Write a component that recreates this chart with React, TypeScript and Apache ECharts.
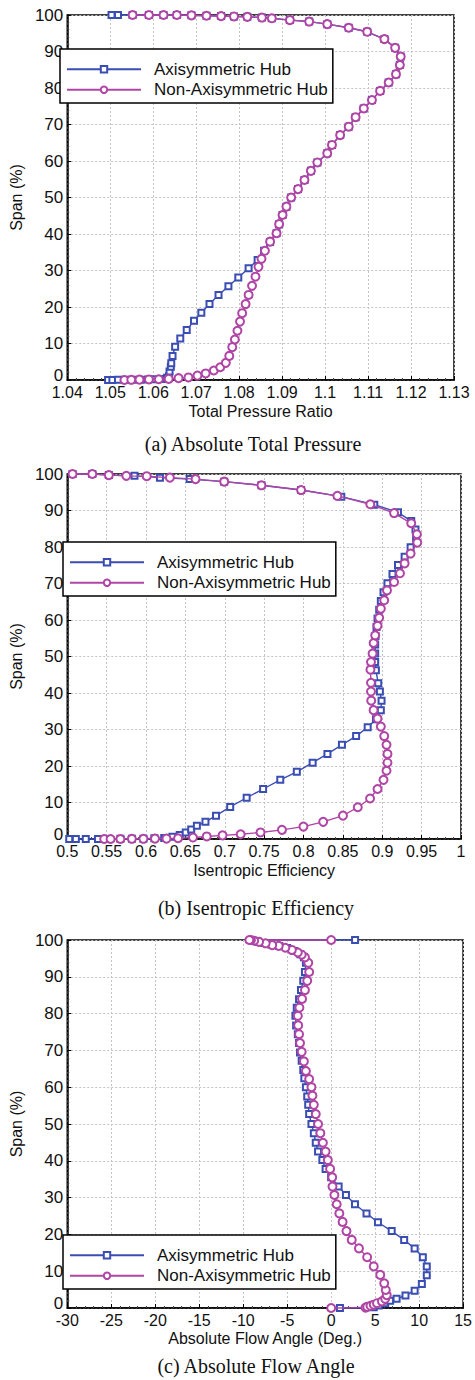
import React, { useEffect, useRef } from "react";
import * as echarts from "echarts";

const SERIES_NAMES = ["Axisymmetric Hub", "Non-Axisymmetric Hub"];
const CAPTIONS = ["(a) Absolute Total Pressure", "(b) Isentropic Efficiency", "(c) Absolute Flow Angle"];
const X_TITLES = ["Total Pressure Ratio", "Isentropic Efficiency", "Absolute Flow Angle (Deg.)"];
const Y_TITLE = "Span (%)";

// [value, span %]
const pressureAxi: number[][] = [
  [1.0495, 0], [1.0505, 0], [1.0518, 0.05], [1.0535, 0.05], [1.0552, 0.1], [1.057, 0.1], [1.0588, 0.15],
  [1.0605, 0.2], [1.0621, 0.3], [1.0632, 0.6], [1.0637, 1.0], [1.0638, 2.3], [1.0641, 3.6], [1.0642, 4.6],
  [1.0645, 6.6], [1.0651, 9.1], [1.0663, 11.4], [1.0678, 13.7], [1.0695, 16.2], [1.0712, 18.4], [1.0731, 20.8],
  [1.0752, 23.3], [1.0775, 25.7], [1.0798, 28.1], [1.0822, 30.6], [1.0843, 32.9], [1.0858, 35.4], [1.0872, 37.8],
  [1.0887, 40.2], [1.0893, 42.7], [1.0901, 45.2], [1.091, 47.5], [1.0921, 50.0], [1.0937, 52.3], [1.0952, 54.8],
  [1.0967, 57.3], [1.0982, 59.6], [1.1005, 62.1], [1.1016, 64.4], [1.1035, 67.1], [1.1055, 69.4], [1.1071, 72.0],
  [1.109, 74.4], [1.1109, 76.7], [1.1128, 79.2], [1.1148, 81.5], [1.1165, 83.8], [1.1174, 86.3], [1.1176, 88.6],
  [1.1163, 91.0], [1.1138, 93.4], [1.1098, 95.4], [1.1055, 96.5], [1.1005, 97.5], [1.0963, 98.2], [1.0918, 98.6],
  [1.0876, 99.1], [1.0853, 99.3], [1.0819, 99.5], [1.0788, 99.6], [1.0758, 99.7], [1.0724, 99.8], [1.0689, 99.9],
  [1.0655, 100], [1.0624, 100], [1.059, 100], [1.0552, 100], [1.0518, 100], [1.0503, 100],
];
const pressureNonAxi: number[][] = [
  [1.0533, 0], [1.0549, 0.05], [1.0568, 0.1], [1.059, 0.15], [1.0613, 0.2], [1.0636, 0.3], [1.0659, 0.5],
  [1.0682, 0.7], [1.0703, 1.2], [1.0722, 1.8], [1.0741, 2.6], [1.0756, 3.5], [1.0769, 4.7], [1.0777, 6.6],
  [1.0784, 9.0], [1.079, 11.1], [1.0796, 13.5], [1.0802, 16.0], [1.0807, 18.3], [1.0815, 20.8], [1.0822, 23.3],
  [1.083, 25.8], [1.0838, 28.3], [1.0845, 31.0], [1.0852, 33.2], [1.086, 35.4], [1.0872, 37.9], [1.0887, 40.2],
  [1.0893, 42.7], [1.0901, 45.2], [1.091, 47.5], [1.0921, 50.0], [1.0937, 52.3], [1.0952, 54.8], [1.0967, 57.3],
  [1.0982, 59.6], [1.1005, 62.1], [1.1016, 64.4], [1.1035, 67.1], [1.1055, 69.4], [1.1071, 72.0], [1.109, 74.4],
  [1.1109, 76.7], [1.1128, 79.2], [1.1148, 81.5], [1.1165, 83.8], [1.1174, 86.3], [1.1176, 88.6], [1.1163, 91.0],
  [1.1138, 93.4], [1.1098, 95.4], [1.1055, 96.5], [1.1005, 97.5], [1.0963, 98.2], [1.0918, 98.6], [1.0876, 99.1],
  [1.0853, 99.3], [1.0819, 99.5], [1.0788, 99.6], [1.0758, 99.7], [1.0724, 99.8], [1.0689, 99.9], [1.0655, 100],
  [1.0624, 100], [1.059, 100], [1.0552, 100],
];

const efficiencyAxi: number[][] = [
  [0.5025, 0], [0.5109, 0], [0.5235, 0], [0.539, 0], [0.5528, 0], [0.5675, 0.05], [0.5821, 0.1], [0.5967, 0.1],
  [0.6106, 0.2], [0.6231, 0.3], [0.6335, 0.6], [0.6428, 1.1], [0.6504, 1.8], [0.6574, 2.6], [0.6646, 3.6],
  [0.6755, 4.7], [0.6889, 6.4], [0.7069, 8.8], [0.7278, 11.3], [0.7487, 13.7], [0.7705, 16.2], [0.7915, 18.4],
  [0.8116, 20.9], [0.8304, 23.3], [0.8488, 25.8], [0.8668, 28.2], [0.8815, 30.6], [0.892, 32.8], [0.8982, 35.3],
  [0.8991, 37.9], [0.897, 40.4], [0.8949, 42.7], [0.8919, 46.2], [0.891, 48.5], [0.891, 50.8], [0.891, 53.3],
  [0.8914, 55.6], [0.8927, 58.1], [0.894, 60.4], [0.8961, 62.8], [0.8982, 65.2], [0.9016, 67.6], [0.9066, 70.1],
  [0.913, 72.6], [0.92, 75.1], [0.9284, 77.3], [0.936, 79.9], [0.943, 82.4], [0.9422, 84.8], [0.9368, 87.1],
  [0.92, 89.5], [0.8899, 91.6], [0.848, 93.8], [0.7969, 95.6], [0.7466, 96.9], [0.6993, 97.9], [0.6554, 98.6],
  [0.6177, 99.0], [0.5854, 99.5], [0.5528, 99.7], [0.5318, 100], [0.5067, 100],
];
const efficiencyNonAxi: number[][] = [
  [0.5469, 0], [0.555, 0], [0.5675, 0], [0.582, 0.05], [0.5967, 0.05], [0.6114, 0.1], [0.626, 0.1], [0.6407, 0.2],
  [0.6596, 0.4], [0.6771, 0.7], [0.6972, 1.0], [0.7202, 1.3], [0.7454, 1.8], [0.7726, 2.5], [0.7999, 3.4],
  [0.825, 4.7], [0.8501, 6.4], [0.8689, 8.7], [0.8845, 11.1], [0.894, 13.7], [0.9016, 16.2], [0.9054, 18.7],
  [0.9066, 20.9], [0.9066, 23.3], [0.9054, 25.8], [0.9025, 28.2], [0.8982, 30.8], [0.894, 33.0], [0.889, 35.3],
  [0.886, 37.9], [0.8857, 40.4], [0.8857, 42.8], [0.885, 46.4], [0.8857, 48.5], [0.8877, 50.8], [0.889, 53.7],
  [0.891, 55.8], [0.894, 58.4], [0.8961, 60.6], [0.8982, 63.1], [0.9025, 65.4], [0.906, 68.1], [0.915, 70.4],
  [0.9225, 72.8], [0.9284, 75.5], [0.936, 78.2], [0.9445, 81.2], [0.944, 83.5], [0.9368, 86.5], [0.915, 89.3],
  [0.8848, 91.7], [0.843, 94.0], [0.7969, 95.6], [0.7466, 96.9], [0.6993, 97.9], [0.6629, 98.6], [0.6303, 99.0],
  [0.6009, 99.4], [0.575, 99.5], [0.5528, 99.7], [0.5318, 100], [0.5067, 100],
];

const angleAxi: number[][] = [
  [1.0, 0], [4.84, 0.2], [5.4, 0.7], [6.14, 1.3], [6.7, 2.0], [7.44, 2.5], [8.45, 3.4], [9.49, 4.7], [10.31, 6.5],
  [10.87, 8.9], [10.87, 11.3], [10.42, 13.8], [9.49, 16.2], [8.3, 18.5], [6.88, 20.9], [5.32, 23.3], [4.02, 25.7],
  [2.71, 28.2], [1.68, 30.7], [0.85, 33.0], [0.0, 35.5], [-0.63, 37.8], [-1.0, 40.2], [-1.49, 42.5], [-1.75, 44.9],
  [-1.97, 47.5], [-2.24, 50.0], [-2.5, 52.7], [-2.61, 55.2], [-2.72, 57.5], [-2.87, 60.0], [-3.05, 62.4],
  [-3.17, 64.7], [-3.35, 67.2], [-3.54, 69.4], [-3.65, 72.0], [-3.79, 74.4], [-3.98, 76.8], [-4.06, 79.4],
  [-3.91, 81.6], [-3.65, 83.9], [-3.43, 86.4], [-3.17, 88.9], [-2.98, 91.3], [-2.87, 93.8], [-3.1, 95.3],
  [-3.5, 96.1], [-4.2, 97.0], [-5.0, 97.8], [-5.9, 98.4], [-6.8, 98.8], [-7.6, 99.2], [-8.3, 99.5], [-8.8, 99.8],
  [-9.1, 100], [2.72, 100],
];
const angleNonAxi: number[][] = [
  [0, 0], [3.91, 0.1], [4.1, 0.3], [4.47, 0.6], [4.84, 0.9], [5.21, 1.3], [5.77, 1.8], [6.14, 2.5], [6.32, 3.5],
  [6.21, 4.9], [6.03, 6.7], [5.58, 9.0], [4.84, 11.3], [4.09, 13.8], [3.16, 16.2], [2.34, 18.5], [1.74, 20.9],
  [1.3, 23.4], [0.93, 25.7], [0.63, 28.2], [0.37, 30.7], [0.15, 33.0], [0.12, 35.5], [-0.12, 37.8], [-0.38, 40.2],
  [-0.63, 42.5], [-0.94, 44.9], [-1.23, 47.5], [-1.49, 50.0], [-1.75, 52.7], [-1.97, 55.2], [-2.13, 57.7],
  [-2.24, 60.0], [-2.5, 62.2], [-2.87, 64.4], [-3.1, 67.0], [-3.35, 69.6], [-3.54, 72.0], [-3.65, 74.4],
  [-3.75, 76.8], [-3.79, 79.4], [-3.61, 81.6], [-3.31, 84.0], [-2.98, 86.4], [-2.72, 88.9], [-2.5, 91.3],
  [-2.6, 93.8], [-2.98, 95.3], [-3.35, 96.0], [-3.79, 96.6], [-4.47, 97.3], [-5.21, 97.9], [-5.96, 98.4],
  [-6.7, 98.6], [-7.45, 99.1], [-8.19, 99.5], [-8.75, 99.8], [-9.12, 100], [-9.3, 100], [0, 100],
];

const X_RANGES = [
  { min: 1.04, max: 1.13, interval: 0.01 },
  { min: 0.5, max: 1, interval: 0.05 },
  { min: -30, max: 15, interval: 5 },
];
const SPAN_RANGE = { min: 0, max: 100, interval: 10 };

const BLUE = "#3a4db2";
const PINK = "#b045a6";
const SANS = "'Liberation Sans', Arial, sans-serif";
const SERIF = "'Liberation Serif', 'Times New Roman', serif";

const GRIDS = [
  { left: 60, top: 15, width: 394, height: 365 },
  { left: 63, top: 474, width: 398, height: 365 },
  { left: 63, top: 940, width: 403, height: 368 },
];
const LEGENDS = [
  { left: 60, top: 49 },
  { left: 63, top: 542 },
  { left: 63, top: 1235 },
];
const CAPTION_POS = [
  { x: 253, y: 444 },
  { x: 256, y: 908 },
  { x: 256, y: 1366 },
];

function fmt(v: number) {
  return String(parseFloat(v.toFixed(3)));
}

export default function App() {
  const ref = useRef<HTMLDivElement>(null);
  useEffect(() => {
    if (!ref.current) return;
    const chart = echarts.init(ref.current, undefined, { renderer: "svg" });
    const data = [
      [pressureAxi, pressureNonAxi],
      [efficiencyAxi, efficiencyNonAxi],
      [angleAxi, angleNonAxi],
    ];
    const grid = GRIDS.map((g) => ({
      ...g,
      show: true,
      borderColor: "#000",
      borderWidth: 1.5,
      backgroundColor: "#fff",
    }));
    const xAxis = X_RANGES.map((r, i) => ({
      type: "value",
      gridIndex: i,
      min: r.min,
      max: r.max,
      interval: r.interval,
      name: X_TITLES[i],
      nameLocation: "middle",
      nameGap: i === 2 ? 22 : 23,
      nameTextStyle: { fontFamily: SANS, fontSize: 16, color: "#111" },
      axisLine: { show: true, onZero: false, lineStyle: { color: "#000", width: 1.5 } },
      axisTick: { show: true, inside: true, length: 4, lineStyle: { color: "#000" } },
      minorTick: { show: true, splitNumber: 5, length: 2, lineStyle: { color: "#444" } },
      axisLabel: { margin: 4, fontFamily: SANS, fontSize: 16, color: "#111", formatter: fmt },
      splitLine: { show: true, lineStyle: { color: "#c4c4c4", type: [2, 2], width: 1 } },
    }));
    const yAxis = GRIDS.map((_, i) => ({
      type: "value",
      gridIndex: i,
      min: SPAN_RANGE.min,
      max: SPAN_RANGE.max,
      interval: SPAN_RANGE.interval,
      name: Y_TITLE,
      nameLocation: "middle",
      nameGap: 33,
      nameRotate: 90,
      nameTextStyle: { fontFamily: SANS, fontSize: 16, color: "#111" },
      axisLine: { show: true, onZero: false, lineStyle: { color: "#000", width: 1.5 } },
      axisTick: { show: true, inside: true, length: 4, lineStyle: { color: "#000" } },
      minorTick: { show: true, splitNumber: 5, length: 2, lineStyle: { color: "#444" } },
      axisLabel: {
        margin: 4,
        fontFamily: SANS,
        fontSize: 17,
        color: "#111",
        formatter: (v: number) => (v === 0 ? "{z|0}" : String(v)),
        rich: { z: { fontFamily: SANS, fontSize: 17, color: "#111", padding: [0, 0, 9, 0] } },
      },
      splitLine: { show: true, lineStyle: { color: "#c4c4c4", type: [2, 2], width: 1 } },
    }));
    const series: any[] = [];
    data.forEach((pair, i) => {
      series.push({
        type: "line",
        name: SERIES_NAMES[0],
        xAxisIndex: i,
        yAxisIndex: i,
        data: pair[0],
        symbol: "emptyRect",
        symbolSize: 6,
        showAllSymbol: true,
        clip: false,
        color: BLUE,
        lineStyle: { color: BLUE, width: 1.4 },
        itemStyle: { color: BLUE, borderColor: BLUE, borderWidth: 1.5 },
        z: 2,
      });
      series.push({
        type: "line",
        name: SERIES_NAMES[1],
        xAxisIndex: i,
        yAxisIndex: i,
        data: pair[1],
        symbol: "emptyCircle",
        symbolSize: 8,
        showAllSymbol: true,
        clip: false,
        color: PINK,
        lineStyle: { color: PINK, width: 1.4 },
        itemStyle: { color: PINK, borderColor: PINK, borderWidth: 1.5 },
        z: 3,
      });
    });
    const legend = LEGENDS.map((l) => ({
      ...l,
      data: SERIES_NAMES,
      orient: "vertical",
      padding: [10, 5, 3, 6],
      itemGap: 0,
      itemWidth: 74,
      itemHeight: 8,
      borderColor: "#000",
      borderWidth: 1.5,
      borderRadius: 0,
      backgroundColor: "#fff",
      selectedMode: false,
      textStyle: { fontFamily: SANS, fontSize: 17, color: "#111", lineHeight: 20.5, padding: [0, 0, 0, 8] },
      z: 10,
    }));
    const graphic = CAPTIONS.map((c, i) => ({
      type: "text",
      x: CAPTION_POS[i].x,
      y: CAPTION_POS[i].y,
      style: {
        text: c,
        fontFamily: SERIF,
        fontSize: 20,
        fill: "#111",
        align: "center",
        verticalAlign: "middle",
        textAlign: "center",
        textVerticalAlign: "middle",
      },
    }));
    chart.setOption({
      animation: false,
      backgroundColor: "#fff",
      grid,
      xAxis,
      yAxis,
      series,
      legend,
      graphic,
    });
    return () => chart.dispose();
  }, []);
  return (
    <div
      ref={ref}
      style={{ position: "absolute", left: 0, top: 0, width: 475, height: 1380, background: "#fff" }}
    />
  );
}
